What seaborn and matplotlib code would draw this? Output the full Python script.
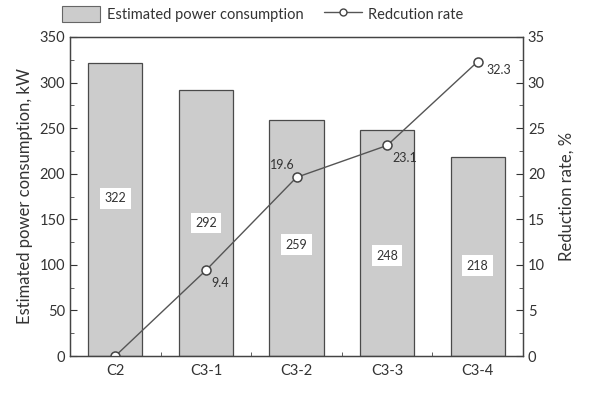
import matplotlib
matplotlib.use("Agg")
import matplotlib.pyplot as plt
import seaborn as sns
import pandas as pd
import numpy as np
from matplotlib.patches import Patch
from matplotlib.lines import Line2D
from matplotlib.ticker import MultipleLocator

categories = ["C2", "C3-1", "C3-2", "C3-3", "C3-4"]
power = [322, 292, 259, 248, 218]
reduction = [0.0, 9.4, 19.6, 23.1, 32.3]
reduction_labels = ["", "9.4", "19.6", "23.1", "32.3"]

# vertical placement of the value boxes (styling, in kW axis units)
label_y = [173, 146, 122, 110, 99]

sns.set_style("ticks")
plt.rcParams['font.family'] = ['Lato', 'DejaVu Sans']

df = pd.DataFrame({"cat": categories, "power": power, "red": reduction})

fig = plt.figure(figsize=(5.92, 3.93), dpi=100)
ax = fig.add_axes([70/592, 1-356/393, (523-70)/592, (356-37)/393])

sns.barplot(data=df, x="cat", y="power", ax=ax, color="#cccccc", width=0.6,
            edgecolor="#4a4a4a", linewidth=0.9, saturation=1)
ax.set_xlim(-0.5, 4.5)
ax.set_ylim(0, 350)
ax.yaxis.set_major_locator(MultipleLocator(50))
ax.yaxis.set_minor_locator(MultipleLocator(25))
ax.set_xticks(range(len(categories)))
ax.set_xticklabels(categories)
ax.set_xticks(np.arange(0.5, 4.5, 1), minor=True)
ax.tick_params(axis="x", which="major", length=0, labelsize=10.5, colors="#333333", pad=6)
ax.tick_params(axis="x", which="minor", direction="in", length=3, color="#444444")
ax.tick_params(axis="y", which="major", direction="in", length=5, labelsize=10.5, colors="#333333")
ax.tick_params(axis="y", which="minor", direction="in", length=3, color="#444444")
ax.set_xlabel("")
ax.set_ylabel("Estimated power consumption, kW", fontsize=12, color="#333333", labelpad=5)
for s in ax.spines.values():
    s.set_color("#444444")
    s.set_linewidth(0.9)

for i, v in enumerate(power):
    ax.text(i, label_y[i], str(v), ha="center", va="center", fontsize=9, color="#333333",
            bbox=dict(boxstyle="square,pad=0.35", fc="white", ec="none"))

ax2 = ax.twinx()
sns.lineplot(data=df, x="cat", y="red", ax=ax2, color="#555555", linewidth=1.0,
             marker="o", markersize=6.5, markerfacecolor="white",
             markeredgecolor="#444444", markeredgewidth=1.1, sort=False)
ax2.set_ylim(0, 35)
ax2.set_xlim(-0.5, 4.5)
ax2.yaxis.set_major_locator(MultipleLocator(5))
ax2.yaxis.set_minor_locator(MultipleLocator(2.5))
ax2.tick_params(axis="y", which="major", direction="in", length=5, labelsize=10.5, colors="#333333")
ax2.tick_params(axis="y", which="minor", direction="in", length=3, color="#444444")
ax2.set_ylabel("Reduction rate, %", fontsize=12, color="#333333", labelpad=10)
ax2.set_xlabel("")
for s in ax2.spines.values():
    s.set_color("#444444")
    s.set_linewidth(0.9)

offsets = {1: (4, -9, "left"), 2: (-1, 9, "right"), 3: (4, -9, "left"), 4: (6, -6, "left")}
for i, (v, lab) in enumerate(zip(reduction, reduction_labels)):
    if not lab:
        continue
    dx, dy, ha = offsets[i]
    ax2.annotate(lab, (i, v), xytext=(dx, dy), textcoords="offset points",
                 ha=ha, va="center", fontsize=9, color="#333333")

handles = [Patch(facecolor="#cccccc", edgecolor="#666666", linewidth=0.8),
           Line2D([0], [0], color="#555555", linewidth=1.0, marker="o", markersize=5,
                  markerfacecolor="white", markeredgecolor="#444444")]
fig.legend(handles, ["Estimated power consumption", "Redcution rate"],
           loc="center", bbox_to_anchor=(263/592, 1 - 14/393), ncol=2, frameon=False,
           fontsize=10.5, handlelength=2.6, handleheight=1.3, columnspacing=1.4,
           handletextpad=0.45, labelcolor="#333333")

fig.savefig("out.png", dpi=100)
